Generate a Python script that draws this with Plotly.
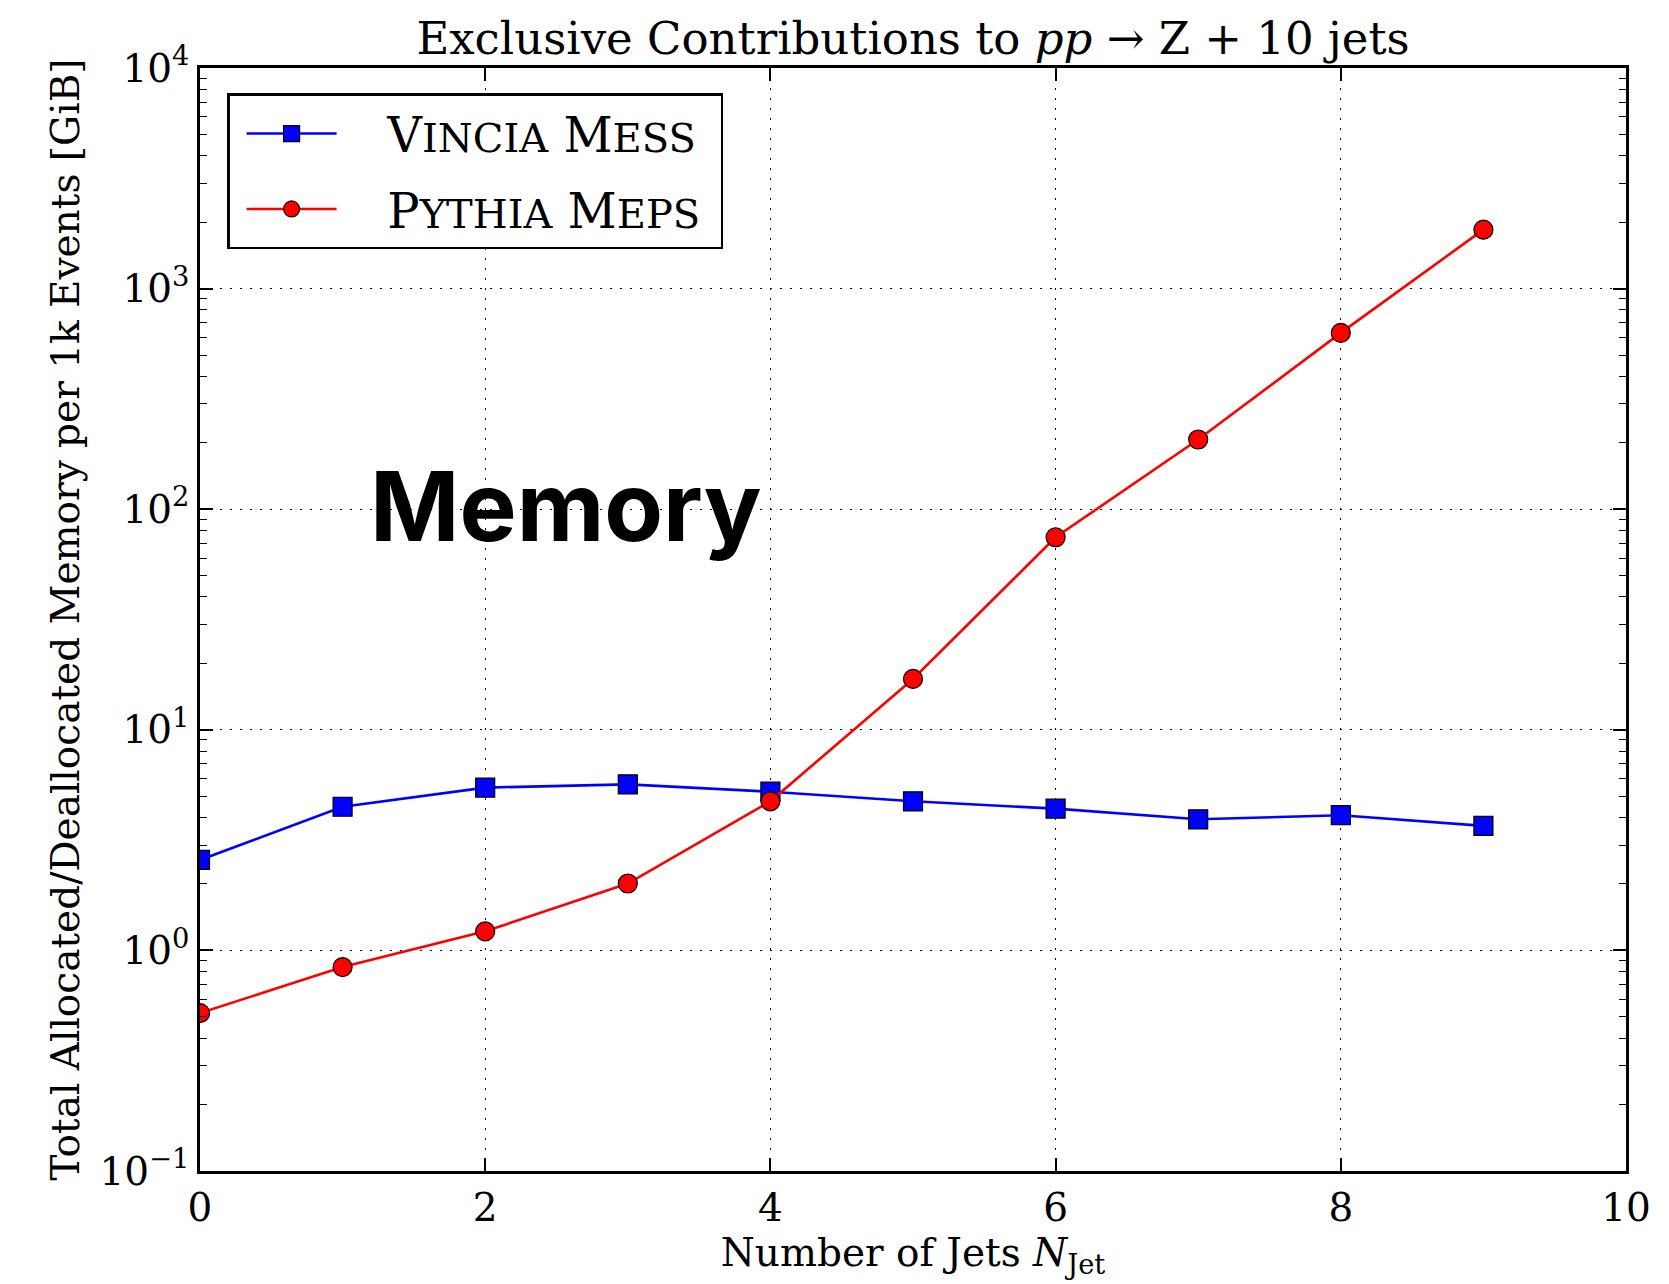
import plotly.graph_objects as go

n_jets = [0, 1, 2, 3, 4, 5, 6, 7, 8, 9]
vincia_mess = [2.57, 4.48, 5.47, 5.66, 5.24, 4.74, 4.39, 3.93, 4.10, 3.67]
pythia_meps = [0.52, 0.84, 1.22, 2.01, 4.74, 17.0, 74.6, 207, 630, 1850]

y_tick_vals = [0.1, 1, 10, 100, 1000, 10000]
y_tick_text = ["10<sup>−1</sup>", "10<sup>0</sup>", "10<sup>1</sup>",
               "10<sup>2</sup>", "10<sup>3</sup>", "10<sup>4</sup>"]
x_tick_vals = [0, 2, 4, 6, 8, 10]

SERIF = "DejaVu Serif"
SC = "<span style='font-size:40px'>{}</span>"
PAD = "&nbsp;&nbsp;&nbsp;"
END = "&nbsp;"

fig = go.Figure()
fig.add_trace(go.Scatter(
    x=n_jets, y=vincia_mess, mode="lines+markers",
    name=PAD + "V" + SC.format("INCIA") + " M" + SC.format("ESS") + END,
    legendgroup="vincia",
    line=dict(color="#0000FF", width=2.6),
    marker=dict(symbol="square", size=19, color="#0000FF",
                line=dict(color="black", width=1.2)),
))
fig.add_trace(go.Scatter(
    x=n_jets, y=pythia_meps, mode="lines+markers",
    name=PAD + "P" + SC.format("YTHIA") + " M" + SC.format("EPS") + END,
    legendgroup="pythia",
    line=dict(color="#FF0000", width=2.6),
    marker=dict(symbol="circle", size=19, color="#FF0000",
                line=dict(color="black", width=1.2)),
))

fig.add_annotation(
    x=2.57, y=2.0, xref="x", yref="y", text="<b>Memory</b>",
    showarrow=False, font=dict(family="Inter", size=96, color="black"),
    xanchor="center", yanchor="middle", yshift=3,
)

axis_common = dict(
    showline=True, linecolor="black", linewidth=2.5, mirror="ticks",
    ticks="inside", tickcolor="black", tickwidth=1.5, ticklen=13,
    showgrid=True, gridcolor="black", gridwidth=1.4, griddash="2px,8px",
    zeroline=False, tickfont=dict(family=SERIF, size=39, color="black"),
)

fig.update_xaxes(
    range=[0, 10], tickvals=x_tick_vals, **axis_common,
    title=dict(text="Number of Jets <i>N</i><sub>Jet</sub>",
               font=dict(family=SERIF, size=39, color="black"), standoff=10),
)
fig.update_yaxes(
    type="log", range=[-1, 4], tickvals=y_tick_vals, ticktext=y_tick_text,
    **axis_common,
    minor=dict(ticks="inside", ticklen=7, tickwidth=1.2, tickcolor="black",
               dtick="D1", showgrid=False),
    title=dict(text="Total Allocated/Deallocated Memory per 1k Events [GiB]",
               font=dict(family=SERIF, size=39, color="black"), standoff=8),
)

fig.update_layout(
    width=1669, height=1284,
    margin=dict(l=200, r=43, t=68, b=113),
    paper_bgcolor="white", plot_bgcolor="white",
    title=dict(text="Exclusive Contributions to <i>pp</i> → Z + 10 jets",
               font=dict(family=SERIF, size=45, color="black"),
               x=0.5, xref="paper", y=0.958, yref="container", yanchor="bottom"),
    legend=dict(x=0.019, y=0.977, xanchor="left", yanchor="top",
                bordercolor="black", borderwidth=2.5, bgcolor="white",
                font=dict(family=SERIF, size=48, color="black"),
                itemwidth=90, tracegroupgap=10, indentation=12),
    showlegend=True,
)

fig.write_html("out.html")
